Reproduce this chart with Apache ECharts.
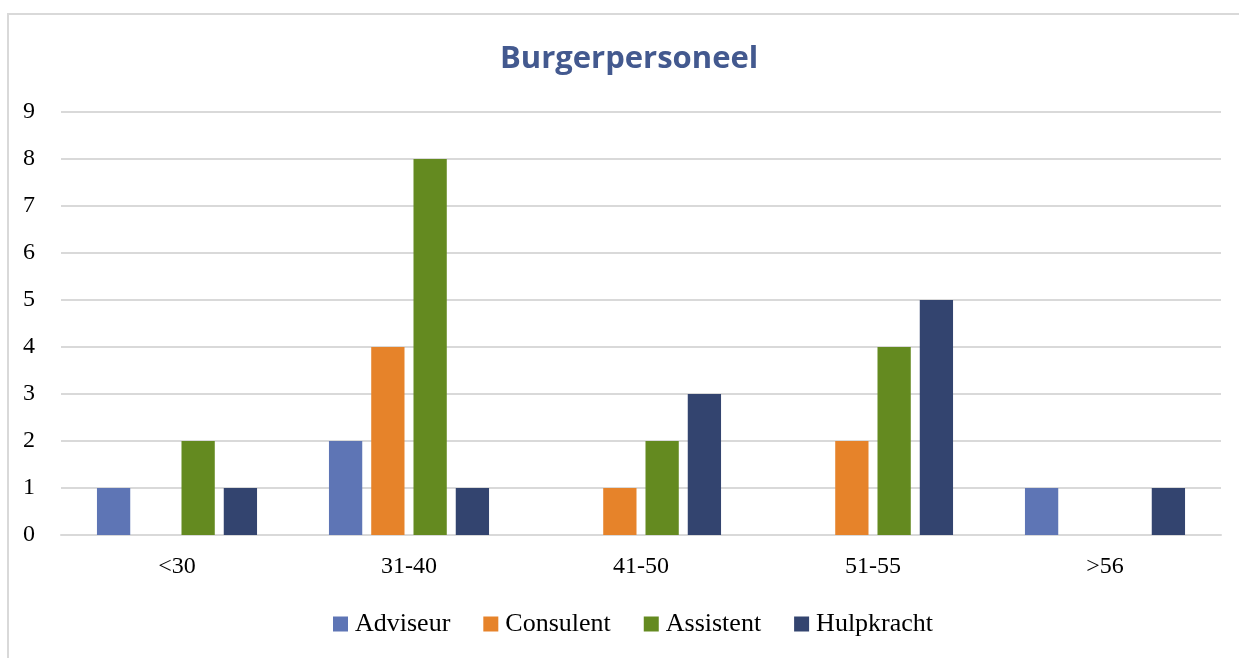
<!DOCTYPE html>
<html>
<head>
<meta charset="utf-8">
<script src="https://cdn.jsdelivr.net/npm/echarts@6/dist/echarts.min.js"></script>
<style>
  html, body { margin: 0; padding: 0; background: #fff; }
  #frame {
    position: absolute; left: 7px; top: 13px; width: 1250px; height: 660px;
    border-left: 2px solid #d9d9d9; border-top: 2px solid #d9d9d9;
  }
  #chart { position: absolute; left: 0; top: 0; width: 1239px; height: 658px; }
</style>
</head>
<body>
<div id="frame"></div>
<div id="chart"></div>
<script>
// leeftijdsgroepen
const categories = ['<30', '31-40', '41-50', '51-55', '>56'];
const adviseur = [1, 2, 0, 0, 1];
const consulent = [0, 4, 1, 2, 0];
const assistent = [2, 8, 2, 4, 0];
const hulpkracht = [1, 1, 3, 5, 1];
const yTicks = [0, 1, 2, 3, 4, 5, 6, 7, 8, 9];

const serif = '"Liberation Serif", "DejaVu Serif", serif';

function bar(name, data, color) {
  return {
    name: name,
    type: 'bar',
    data: data,
    barGap: '27%',
    barCategoryGap: '31%',
    itemStyle: { color: color }
  };
}

const chart = echarts.init(document.getElementById('chart'));
chart.setOption({
  animation: false,
  title: {
    text: 'Burgerpersoneel',
    left: 495,
    top: 39,
    textStyle: { fontFamily: '"Open Sans", "Noto Sans", sans-serif', fontWeight: 'bold', fontSize: 31, color: '#43598F' }
  },
  legend: {
    bottom: 16,
    left: 328,
    itemWidth: 15,
    itemHeight: 15,
    itemGap: 33,
    icon: 'rect',
    textStyle: { fontFamily: serif, fontSize: 26, color: '#000', padding: [0, 0, 0, 2] },
    data: ['Adviseur', 'Consulent', 'Assistent', 'Hulpkracht']
  },
  grid: { left: 61, right: 18, top: 112, bottom: 123 },
  xAxis: {
    type: 'category',
    data: categories,
    axisLine: { show: true, lineStyle: { color: '#d9d9d9', width: 2 } },
    axisTick: { show: false },
    axisLabel: { fontFamily: serif, fontSize: 24, color: '#000', margin: 20 }
  },
  yAxis: {
    type: 'value',
    min: yTicks[0],
    max: yTicks[yTicks.length - 1],
    interval: 1,
    axisLine: { show: false },
    axisTick: { show: false },
    axisLabel: { fontFamily: serif, fontSize: 24, color: '#000', margin: 26 },
    splitLine: { lineStyle: { color: '#d9d9d9', width: 2 } }
  },
  series: [
    bar('Adviseur', adviseur, '#5E75B5'),
    bar('Consulent', consulent, '#E6832A'),
    bar('Assistent', assistent, '#648A20'),
    bar('Hulpkracht', hulpkracht, '#33446F')
  ]
});
</script>
</body>
</html>
